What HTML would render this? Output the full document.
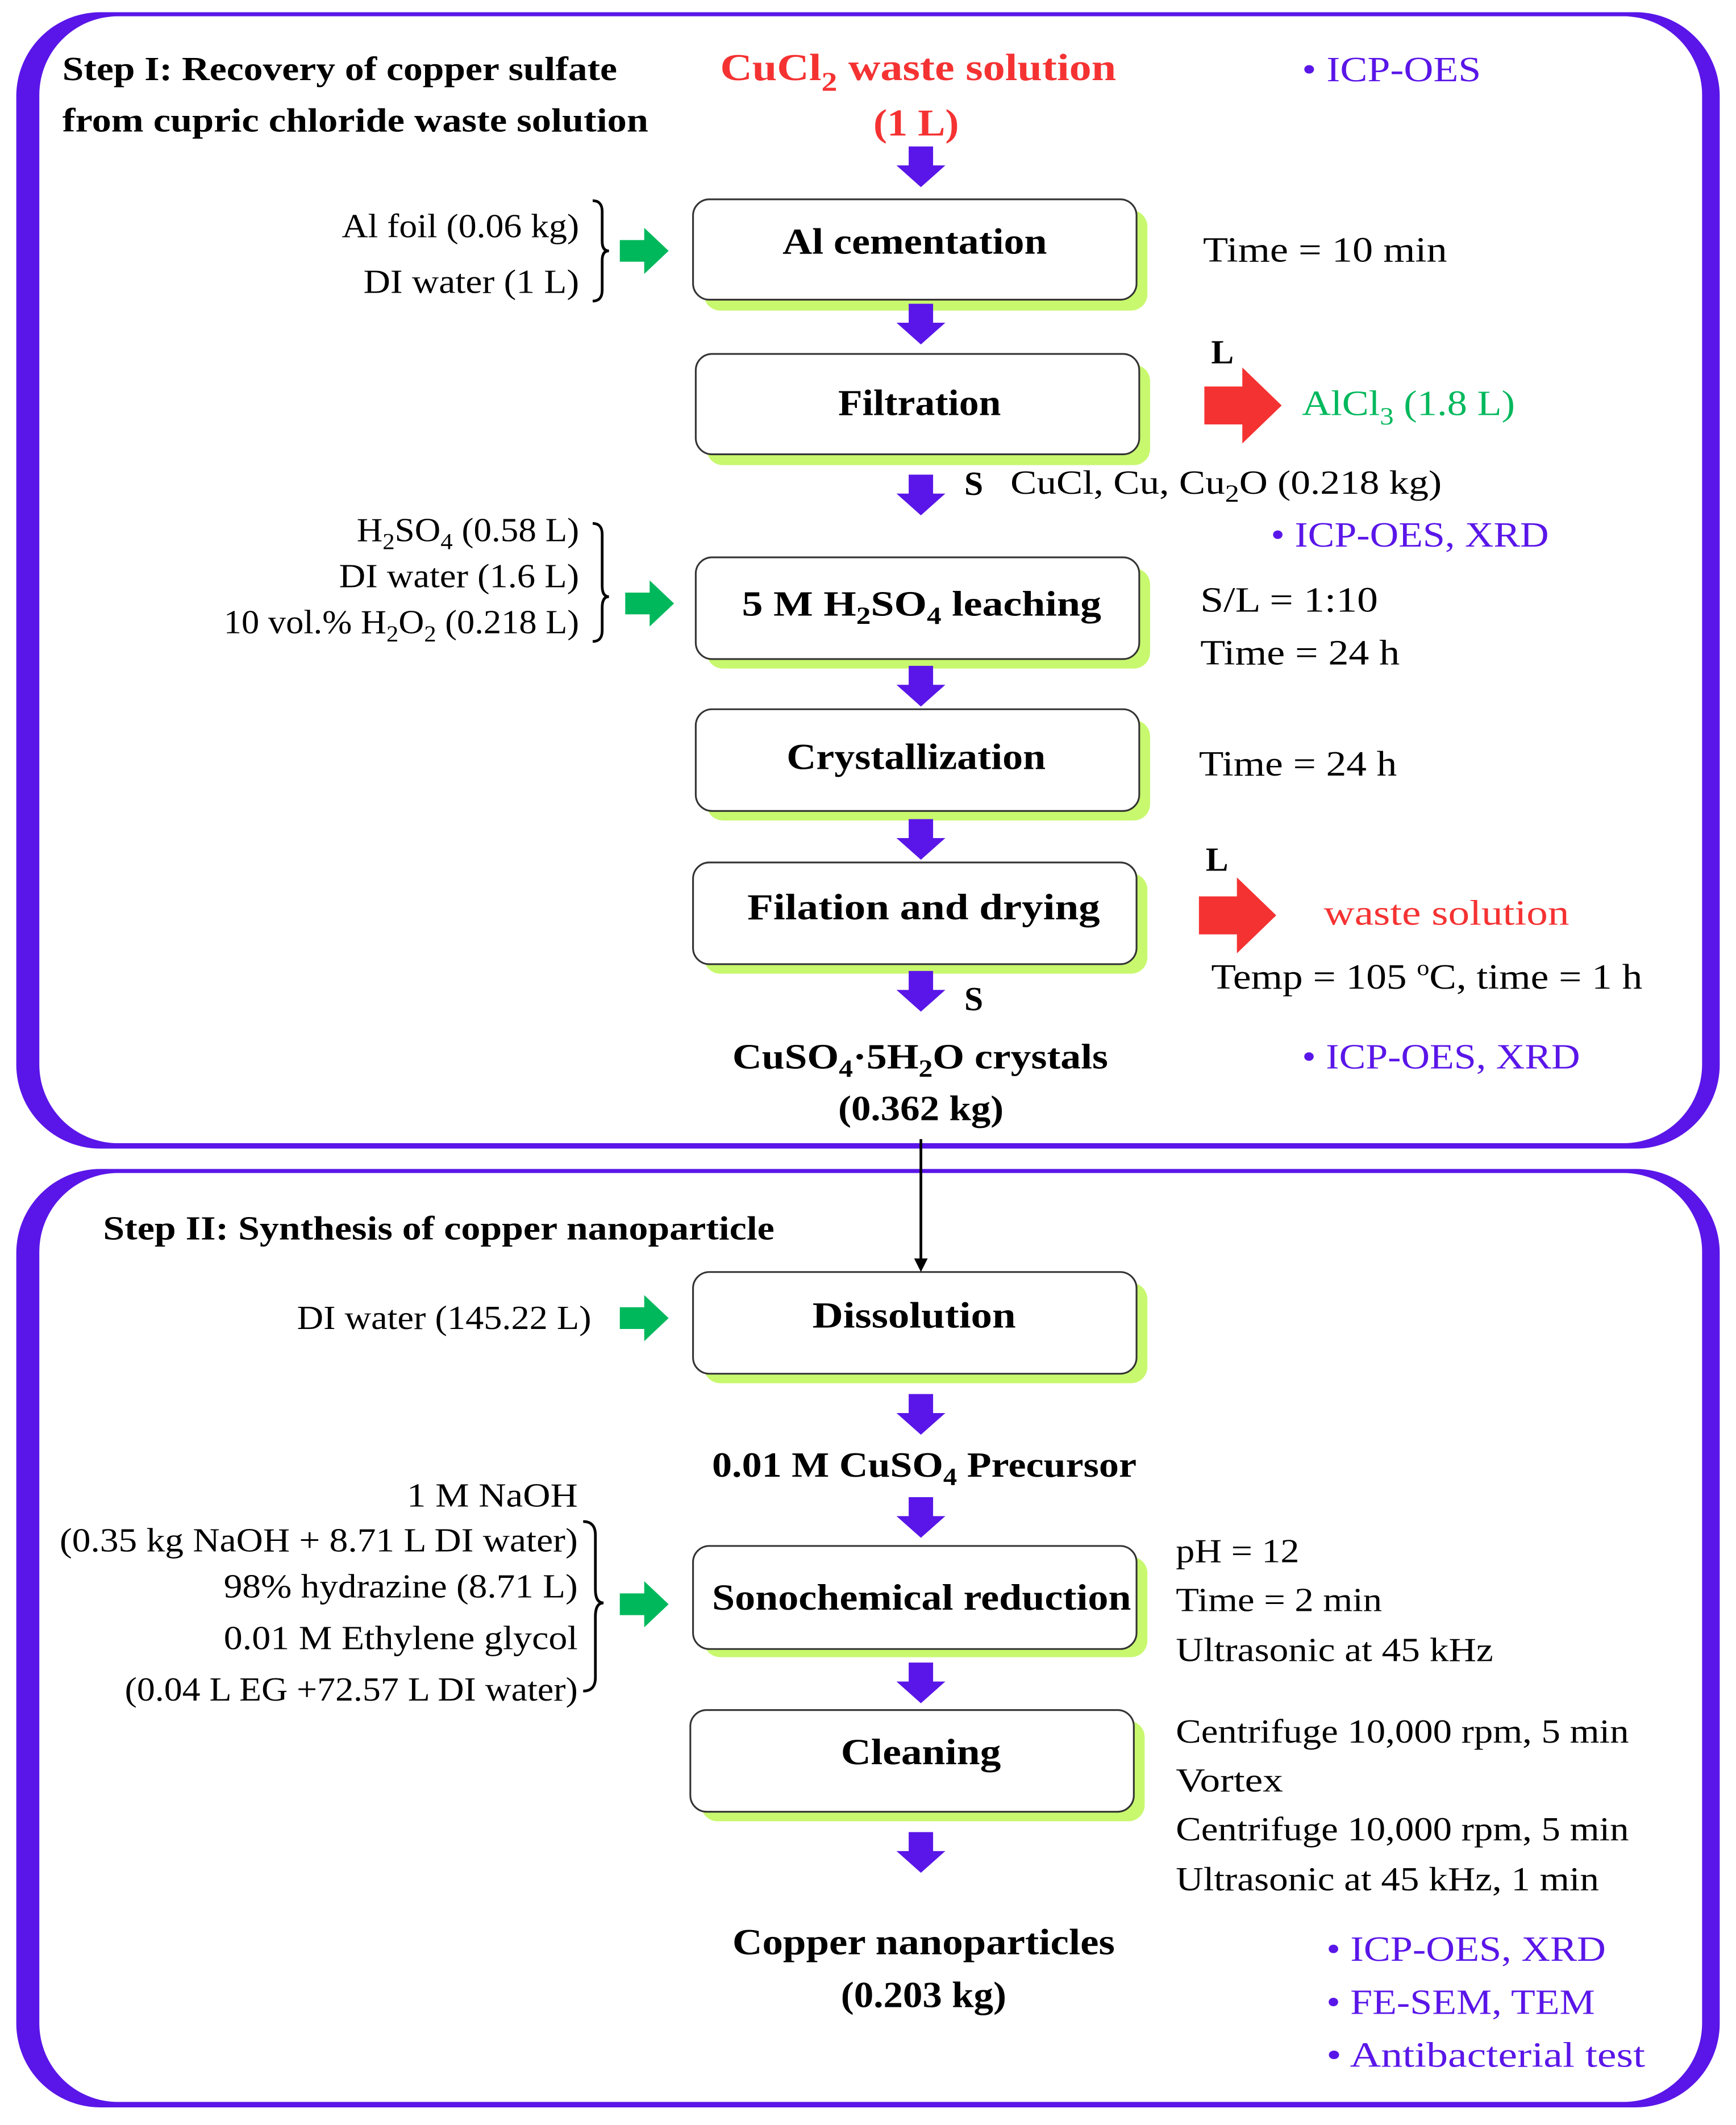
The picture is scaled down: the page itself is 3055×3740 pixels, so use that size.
<!DOCTYPE html>
<html><head><meta charset="utf-8"><style>
html,body{margin:0;padding:0;background:#fff;}
svg{display:block;}
text{font-family:"Liberation Serif",serif;}
.b{font-weight:bold;}
.p{fill:#5a16e8;}
</style></head><body>
<svg width="3055" height="3740" viewBox="0 0 1280 1567" xmlns="http://www.w3.org/2000/svg">
<defs>
<g id="da"><polygon points="-9,0 9,0 9,14 18,14 0,30 -18,14 -9,14" fill="#5a16e8"/></g>
<g id="ga"><polygon points="0,-8 18,-8 18,-17 36,0 18,17 18,8 0,8" fill="#00b85c"/></g>
<g id="ra"><polygon points="0,-14 28,-14 28,-28 57,0 28,28 28,14 0,14" fill="#f53232"/></g>
</defs>
<rect x="12" y="9" width="1256" height="838" rx="62" fill="#5a16e8"/>
<rect x="29" y="12" width="1226" height="831" rx="58" fill="#fff"/>
<rect x="12" y="862" width="1256" height="692" rx="62" fill="#5a16e8"/>
<rect x="29" y="865" width="1226" height="685" rx="58" fill="#fff"/>

<g stroke="#333" stroke-width="1.3">
<rect x="519" y="155" width="327" height="74" rx="12" fill="#c8f86e" stroke="none"/>
<rect x="511" y="147" width="327" height="74" rx="12" fill="#fff"/>
<rect x="521" y="269" width="327" height="74" rx="12" fill="#c8f86e" stroke="none"/>
<rect x="513" y="261" width="327" height="74" rx="12" fill="#fff"/>
<rect x="521" y="419" width="327" height="74" rx="12" fill="#c8f86e" stroke="none"/>
<rect x="513" y="411" width="327" height="75" rx="12" fill="#fff"/>
<rect x="521" y="531" width="327" height="74" rx="12" fill="#c8f86e" stroke="none"/>
<rect x="513" y="523" width="327" height="75" rx="12" fill="#fff"/>
<rect x="519" y="644" width="327" height="74" rx="12" fill="#c8f86e" stroke="none"/>
<rect x="511" y="636" width="327" height="75" rx="12" fill="#fff"/>
<rect x="519" y="946" width="327" height="74" rx="12" fill="#c8f86e" stroke="none"/>
<rect x="511" y="938" width="327" height="75" rx="12" fill="#fff"/>
<rect x="519" y="1148" width="327" height="74" rx="12" fill="#c8f86e" stroke="none"/>
<rect x="511" y="1140" width="327" height="76" rx="12" fill="#fff"/>
<rect x="517" y="1269" width="327" height="74" rx="12" fill="#c8f86e" stroke="none"/>
<rect x="509" y="1261" width="327" height="75" rx="12" fill="#fff"/>
</g>

<use href="#da" x="679" y="108"/>
<use href="#da" x="679" y="224"/>
<use href="#da" x="679" y="350"/>
<use href="#da" x="679" y="491"/>
<use href="#da" x="679" y="604"/>
<use href="#da" x="679" y="716"/>
<use href="#da" x="679" y="1028"/>
<use href="#da" x="679" y="1104"/>
<use href="#da" x="679" y="1226"/>
<use href="#da" x="679" y="1351"/>
<use href="#ga" x="457" y="185"/>
<use href="#ga" x="461" y="445"/>
<use href="#ga" x="457" y="972"/>
<use href="#ga" x="457" y="1183"/>
<use href="#ra" x="888" y="299"/>
<use href="#ra" x="884" y="675"/>
<line x1="679" y1="840" x2="679" y2="930" stroke="#000" stroke-width="2"/>
<polygon points="674,928 684,928 679,938" fill="#000"/>

<g fill="none" stroke="#000" stroke-width="2">
<path d="M437,148 q7,0 7,8 v22 q0,7 5,7 q-5,0 -5,7 v22 q0,8 -7,8"/>
<path d="M437,386 q7,0 7,8 v38 q0,8 5,8 q-5,0 -5,8 v17 q0,8 -7,8"/>
<path d="M430,1122 q9,0 9,10 v40 q0,10 6,10 q-6,0 -6,10 v45 q0,10 -9,10"/>
</g>

<g lengthAdjust="spacingAndGlyphs">
<text x="46" y="59" font-size="25" class="b" textLength="409" lengthAdjust="spacingAndGlyphs">Step I: Recovery of copper sulfate</text>
<text x="46" y="97" font-size="25" class="b" textLength="432" lengthAdjust="spacingAndGlyphs">from cupric chloride waste solution</text>
<text x="531" y="59" font-size="28" class="b" fill="#f53232" textLength="292" lengthAdjust="spacingAndGlyphs">CuCl<tspan font-size="20" dy="8">2</tspan><tspan dy="-8"> waste solution</tspan></text>
<text x="644" y="100" font-size="28" class="b" fill="#f53232" textLength="63" lengthAdjust="spacingAndGlyphs">(1 L)</text>
<text x="960" y="60" font-size="26" class="p" textLength="132" lengthAdjust="spacingAndGlyphs">• ICP-OES</text>

<text x="252" y="175" font-size="25" textLength="175" lengthAdjust="spacingAndGlyphs">Al foil (0.06 kg)</text>
<text x="268" y="216" font-size="25" textLength="159" lengthAdjust="spacingAndGlyphs">DI water (1 L)</text>
<text x="577" y="187" font-size="27" class="b" textLength="195" lengthAdjust="spacingAndGlyphs">Al cementation</text>
<text x="887" y="193" font-size="26" textLength="180" lengthAdjust="spacingAndGlyphs">Time = 10 min</text>

<text x="618" y="306" font-size="27" class="b" textLength="120" lengthAdjust="spacingAndGlyphs">Filtration</text>
<text x="893" y="268" font-size="25" class="b">L</text>
<text x="960" y="306" font-size="26" fill="#00b85c" textLength="157" lengthAdjust="spacingAndGlyphs">AlCl<tspan font-size="18" dy="7">3</tspan><tspan dy="-7"> (1.8 L)</tspan></text>
<text x="711" y="365" font-size="25" class="b">S</text>
<text x="745" y="364" font-size="25" textLength="318" lengthAdjust="spacingAndGlyphs">CuCl, Cu, Cu<tspan font-size="18" dy="6">2</tspan><tspan dy="-6">O (0.218 kg)</tspan></text>
<text x="937" y="403" font-size="26" class="p" textLength="205" lengthAdjust="spacingAndGlyphs">• ICP-OES, XRD</text>

<text x="263" y="399" font-size="25" textLength="164" lengthAdjust="spacingAndGlyphs">H<tspan font-size="17" dy="6">2</tspan><tspan dy="-6">SO</tspan><tspan font-size="17" dy="6">4</tspan><tspan dy="-6"> (0.58 L)</tspan></text>
<text x="250" y="433" font-size="25" textLength="177" lengthAdjust="spacingAndGlyphs">DI water (1.6 L)</text>
<text x="165" y="467" font-size="25" textLength="262" lengthAdjust="spacingAndGlyphs">10 vol.% H<tspan font-size="17" dy="6">2</tspan><tspan dy="-6">O</tspan><tspan font-size="17" dy="6">2</tspan><tspan dy="-6"> (0.218 L)</tspan></text>
<text x="547" y="454" font-size="26" class="b" textLength="265" lengthAdjust="spacingAndGlyphs">5 M H<tspan font-size="18" dy="6">2</tspan><tspan dy="-6">SO</tspan><tspan font-size="18" dy="6">4</tspan><tspan dy="-6">  leaching</tspan></text>
<text x="885" y="451" font-size="26" textLength="131" lengthAdjust="spacingAndGlyphs">S/L = 1:10</text>
<text x="885" y="490" font-size="26" textLength="147" lengthAdjust="spacingAndGlyphs">Time = 24 h</text>

<text x="580" y="567" font-size="27" class="b" textLength="191" lengthAdjust="spacingAndGlyphs">Crystallization</text>
<text x="884" y="572" font-size="26" textLength="146" lengthAdjust="spacingAndGlyphs">Time = 24 h</text>

<text x="551" y="678" font-size="27" class="b" textLength="260" lengthAdjust="spacingAndGlyphs">Filation and drying</text>
<text x="889" y="642" font-size="25" class="b">L</text>
<text x="976" y="682" font-size="26" fill="#f53232" textLength="181" lengthAdjust="spacingAndGlyphs">waste solution</text>
<text x="893" y="729" font-size="26" textLength="318" lengthAdjust="spacingAndGlyphs">Temp = 105 <tspan font-size="16" dy="-10">o</tspan><tspan dy="10">C, time = 1 h</tspan></text>
<text x="711" y="745" font-size="25" class="b">S</text>
<text x="540" y="788" font-size="26" class="b" textLength="277" lengthAdjust="spacingAndGlyphs">CuSO<tspan font-size="18" dy="6">4</tspan><tspan dy="-6">·5H</tspan><tspan font-size="18" dy="6">2</tspan><tspan dy="-6">O crystals</tspan></text>
<text x="618" y="826" font-size="26" class="b" textLength="122" lengthAdjust="spacingAndGlyphs">(0.362 kg)</text>
<text x="960" y="788" font-size="26" class="p" textLength="205" lengthAdjust="spacingAndGlyphs">• ICP-OES, XRD</text>

<text x="76" y="914" font-size="25" class="b" textLength="495" lengthAdjust="spacingAndGlyphs">Step II: Synthesis of copper nanoparticle</text>
<text x="219" y="980" font-size="25" textLength="217" lengthAdjust="spacingAndGlyphs">DI water (145.22 L)</text>
<text x="599" y="979" font-size="27" class="b" textLength="150" lengthAdjust="spacingAndGlyphs">Dissolution</text>
<text x="525" y="1089" font-size="26" class="b" textLength="313" lengthAdjust="spacingAndGlyphs">0.01 M CuSO<tspan font-size="18" dy="6">4</tspan><tspan dy="-6"> Precursor</tspan></text>

<text x="300" y="1111" font-size="25" textLength="126" lengthAdjust="spacingAndGlyphs">1 M NaOH</text>
<text x="44" y="1144" font-size="25" textLength="382" lengthAdjust="spacingAndGlyphs">(0.35 kg NaOH + 8.71 L DI water)</text>
<text x="165" y="1178" font-size="25" textLength="261" lengthAdjust="spacingAndGlyphs">98% hydrazine (8.71 L)</text>
<text x="165" y="1216" font-size="25" textLength="261" lengthAdjust="spacingAndGlyphs">0.01 M Ethylene glycol</text>
<text x="92" y="1254" font-size="25" textLength="334" lengthAdjust="spacingAndGlyphs">(0.04 L EG +72.57 L DI water)</text>
<text x="525" y="1187" font-size="27" class="b" textLength="309" lengthAdjust="spacingAndGlyphs">Sonochemical reduction</text>
<text x="867" y="1152" font-size="25" textLength="91" lengthAdjust="spacingAndGlyphs">pH = 12</text>
<text x="867" y="1188" font-size="25" textLength="152" lengthAdjust="spacingAndGlyphs">Time = 2 min</text>
<text x="867" y="1225" font-size="25" textLength="234" lengthAdjust="spacingAndGlyphs">Ultrasonic at 45 kHz</text>

<text x="620" y="1301" font-size="27" class="b" textLength="118" lengthAdjust="spacingAndGlyphs">Cleaning</text>
<text x="867" y="1285" font-size="25" textLength="334" lengthAdjust="spacingAndGlyphs">Centrifuge 10,000 rpm, 5 min</text>
<text x="867" y="1321" font-size="25" textLength="79" lengthAdjust="spacingAndGlyphs">Vortex</text>
<text x="867" y="1357" font-size="25" textLength="334" lengthAdjust="spacingAndGlyphs">Centrifuge 10,000 rpm, 5 min</text>
<text x="867" y="1394" font-size="25" textLength="312" lengthAdjust="spacingAndGlyphs">Ultrasonic at 45 kHz, 1 min</text>

<text x="540" y="1441" font-size="27" class="b" textLength="282" lengthAdjust="spacingAndGlyphs">Copper  nanoparticles</text>
<text x="620" y="1480" font-size="27" class="b" textLength="122" lengthAdjust="spacingAndGlyphs">(0.203 kg)</text>
<text x="978" y="1446" font-size="26" class="p" textLength="206" lengthAdjust="spacingAndGlyphs">• ICP-OES, XRD</text>
<text x="978" y="1485" font-size="26" class="p" textLength="198" lengthAdjust="spacingAndGlyphs">• FE-SEM, TEM</text>
<text x="978" y="1524" font-size="26" class="p" textLength="235" lengthAdjust="spacingAndGlyphs">• Antibacterial test</text>
</g>
</svg>
</body></html>
